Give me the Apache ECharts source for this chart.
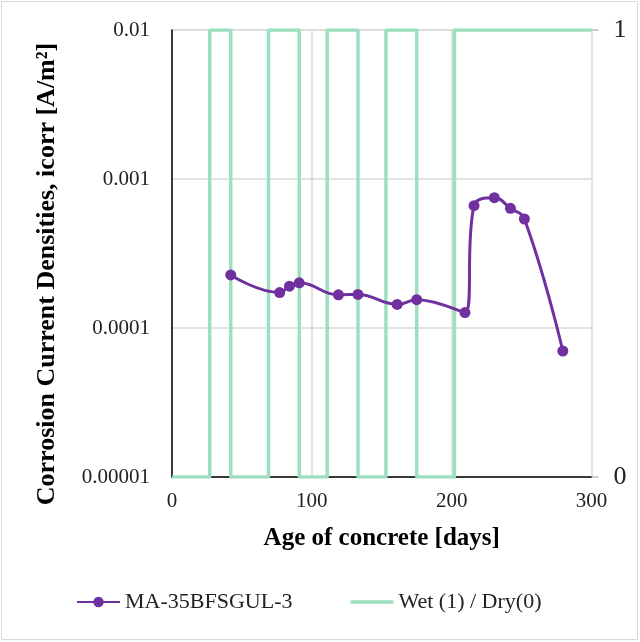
<!DOCTYPE html>
<html>
<head>
<meta charset="utf-8">
<script src="https://cdn.jsdelivr.net/npm/echarts@6/dist/echarts.min.js"></script>
<style>
  html, body { margin: 0; padding: 0; background: #fff; }
  #chart { width: 640px; height: 642px; }
</style>
</head>
<body>
<div id="chart"></div>
<script>
// Corrosion current density readings (age in days, icorr in A/m²)
const ageDays = [42, 77, 84, 91, 119, 133, 161, 175, 209.5, 216, 230.5, 242, 252, 279.5];
const icorr = [2.27e-4, 1.73e-4, 1.91e-4, 2.01e-4, 1.67e-4, 1.68e-4, 1.44e-4, 1.55e-4,
               1.27e-4, 6.62e-4, 7.49e-4, 6.36e-4, 5.39e-4, 7.01e-5];

// Wet/dry exposure: days on which the state flips, starting dry (0)
const switchDays = [27, 42, 69, 91, 111, 133, 153, 175, 202];
const wetDryStart = 0;
const wetDryEndDay = 300;

// Axis tick labels
const xTicks = [0, 100, 200, 300];
const yTickLabels = ['0.00001', '0.0001', '0.001', '0.01'];
const y2TickLabels = ['0', '1'];

// Square wave built from the switch days
const wetDry = [[0, wetDryStart]];
let state = wetDryStart;
switchDays.forEach(d => {
  wetDry.push([d, state]);
  state = 1 - state;
  wetDry.push([d, state]);
});
wetDry.push([wetDryEndDay, state]);

const icorrData = ageDays.map((d, i) => [d, icorr[i]]);

const FONT = '"Liberation Serif", "Times New Roman", serif';
const PURPLE = '#7030A0';
const GREEN = '#9DDFBE';

const chart = echarts.init(document.getElementById('chart'), null, { renderer: 'canvas' });
chart.setOption({
  animation: false,
  backgroundColor: '#fff',
  textStyle: { fontFamily: FONT },
  graphic: [{
    type: 'rect',
    shape: { x: 1.5, y: 1.5, width: 636, height: 638 },
    style: { fill: 'none', stroke: '#d9d9d9', lineWidth: 1 },
    silent: true
  }, {
    // vertical title of the icorr axis
    type: 'text',
    x: 47,
    y: 274,
    rotation: Math.PI / 2,
    style: {
      text: 'Corrosion Current Densities, icorr [A/m\u00B2]',
      fontFamily: FONT,
      fontSize: 26,
      fontWeight: 'bold',
      fill: '#000',
      align: 'center',
      verticalAlign: 'middle'
    },
    silent: true
  }],
  grid: { left: 172, right: 48.5, top: 30, bottom: 165, containLabel: false },
  legend: {
    top: 586,
    left: 71,
    itemGap: 58,
    itemWidth: 43,
    itemHeight: 13,
    textStyle: { fontFamily: FONT, fontSize: 22, color: '#222' },
    data: [
      { name: 'MA-35BFSGUL-3' },
      { name: 'Wet (1) / Dry(0)', icon: 'path://M0,0 H43 V3.5 H0 Z' }
    ]
  },
  xAxis: {
    type: 'value',
    min: 0, max: 300, interval: 100,
    name: 'Age of concrete [days]',
    nameLocation: 'middle',
    nameGap: 49,
    nameTextStyle: { fontFamily: FONT, fontSize: 25, fontWeight: 'bold', color: '#000' },
    axisLine: { show: true, onZero: false, lineStyle: { color: '#000', width: 1.5 } },
    axisTick: { show: false },
    axisLabel: {
      fontFamily: FONT, fontSize: 21, color: '#222', margin: 14,
      formatter: v => xTicks.includes(v) ? String(v) : ''
    },
    splitLine: { show: true, lineStyle: { color: '#d9d9d9', width: 1.5 } }
  },
  yAxis: [{
    type: 'log',
    logBase: 10,
    min: 1e-5, max: 1e-2,
    axisLine: { show: true, lineStyle: { color: '#000', width: 1.5 } },
    axisTick: { show: false },
    axisLabel: {
      fontFamily: FONT, fontSize: 21, color: '#222', margin: 22,
      formatter: v => {
        const idx = Math.round(Math.log10(v)) + 5;
        return yTickLabels[idx] || '';
      }
    },
    splitLine: { show: true, lineStyle: { color: '#d9d9d9', width: 1.5 } }
  }, {
    type: 'value',
    min: 0, max: 1, interval: 1,
    position: 'right',
    axisLine: { show: false },
    axisTick: { show: true, length: 7, lineStyle: { color: '#bfbfbf', width: 1.5 } },
    axisLabel: {
      fontFamily: FONT, fontSize: 26, color: '#222', margin: 22,
      formatter: v => y2TickLabels[v] || ''
    },
    splitLine: { show: false }
  }],
  series: [{
    name: 'Wet (1) / Dry(0)',
    type: 'line',
    yAxisIndex: 1,
    data: wetDry,
    showSymbol: false,
    symbol: 'none',
    lineStyle: { color: GREEN, width: 3.5 },
    itemStyle: { color: GREEN },
    z: 2
  }, {
    name: 'MA-35BFSGUL-3',
    type: 'line',
    yAxisIndex: 0,
    data: icorrData,
    smooth: 0.45,
    symbol: 'circle',
    symbolSize: 11,
    lineStyle: { color: PURPLE, width: 3 },
    itemStyle: { color: PURPLE },
    z: 3
  }]
});
</script>
</body>
</html>
